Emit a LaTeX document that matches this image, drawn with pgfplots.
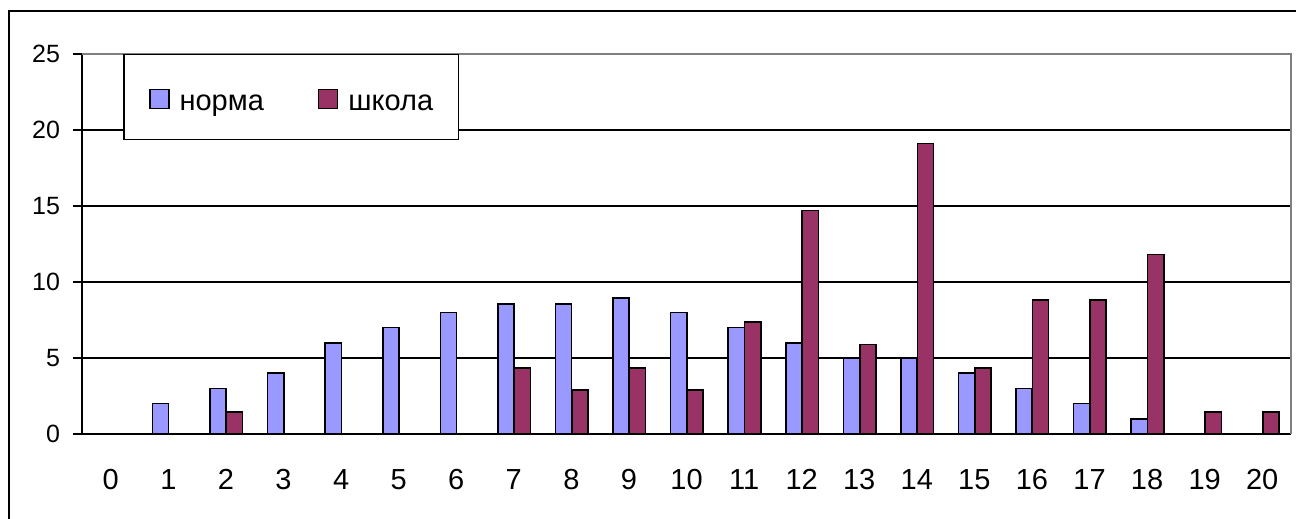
\documentclass[border=0pt]{standalone}
\usepackage{pgfplots}
\pgfplotsset{compat=1.18}
\usepackage{fontspec}
\setmainfont{Liberation Sans}
\definecolor{norma}{RGB}{153,153,255}
\definecolor{shkola}{RGB}{153,51,102}
\pgfplotsset{myleg/.style={legend image code/.code={\draw[##1, line width=0.7pt] (0pt,1pt) rectangle (9.5pt,10.5pt); \path (0pt,14.6pt);}}}
\begin{document}
\begin{tikzpicture}
\useasboundingbox (0,0) rectangle (648pt,259.5pt);
\draw[line width=1pt] (4.5pt,-10pt) -- (4.5pt,254pt) -- (660pt,254pt);
\begin{axis}[
  at={(41pt,42.5pt)}, anchor=south west,
  width=604.5pt, height=190pt, scale only axis,
  xmin=-0.5, xmax=20.5, ymin=0, ymax=25,
  ybar, bar width=0.28,
  axis lines=left, axis line style={-, line width=0.8pt, black},
  xtick={0,...,20}, x tick style={draw=none},
  minor xtick={-0.5,0.5,...,20.5},
  minor x tick style={black, line width=0.8pt},
  minor tick length=5pt,
  ytick={0,5,...,25}, major tick length=4.5pt, tick align=outside,
  y tick style={black, line width=0.8pt},
  extra y ticks={5,10,15,20}, extra y tick labels={,,,},
  extra y tick style={grid=major},
  major grid style={black, line width=0.65pt},
  /pgf/number format/assume math mode=true,
  xticklabel style={font=\fontsize{14.5}{17}\selectfont, yshift=-9.5pt},
  yticklabel style={font=\fontsize{12.5}{14}\selectfont, xshift=-3pt},
  legend style={at={(0.0342,1)}, anchor=north west, draw=black, line width=0.75pt,
    inner xsep=12.5pt, inner ysep=12.9pt, nodes={inner sep=0pt},
    font=\fontsize{14.5}{17}\selectfont, cells={anchor=base west},
    column sep=5pt, /tikz/every even column/.append style={column sep=27pt}},
  legend columns=2,
  after end axis/.code={\draw[gray, line width=0.6pt] (rel axis cs:0,1) -- (rel axis cs:1,1) -- (rel axis cs:1,0);},
]
\addplot[draw=black, line width=0.8pt, fill=norma, bar shift=-0.135, myleg]
  coordinates {(1,2) (2,3) (3,4) (4,6) (5,7) (6,8) (7,8.55) (8,8.55) (9,8.95) (10,8)
  (11,7) (12,6) (13,5) (14,5) (15,4) (16,3) (17,2) (18,1)};
\addlegendentry{норма}
\addplot[draw=black, line width=0.8pt, fill=shkola, bar shift=0.15, myleg]
  coordinates {(2,1.45) (7,4.35) (8,2.9) (9,4.35) (10,2.9) (11,7.35) (12,14.7) (13,5.9)
  (14,19.1) (15,4.35) (16,8.8) (17,8.8) (18,11.8) (19,1.45) (20,1.45)};
\addlegendentry{школа}
\end{axis}
\end{tikzpicture}
\end{document}
